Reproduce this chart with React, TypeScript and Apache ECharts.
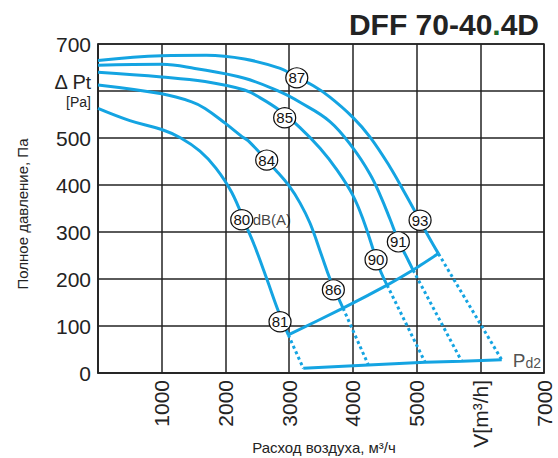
import React, { useEffect, useRef } from 'react';
import * as echarts from 'echarts';

// Fan curves (flow m3/h, total pressure Pa)
const curve93: number[][] = [[0,665],[1000,675],[1700,676],[2300,668],[2860,648],[3120,629],[3380,611],[3640,587],[4000,544],[4270,502],[4580,439],[4820,382],[5055,324],[5190,290],[5343,254]];
const curve91: number[][] = [[0,655],[1000,657],[1520,648],[2300,627],[2860,598],[3170,576],[3640,535],[4000,479],[4270,423],[4430,378],[4584,327],[4714,282],[4846,246],[4945,219]];
const curve90: number[][] = [[0,640],[1000,630],[1680,620],[2300,602],[2540,586],[2860,558],[3170,522],[3485,478],[3750,432],[4000,378],[4165,325],[4350,250],[4440,215],[4537,187]];
const curve86: number[][] = [[0,613],[1000,594],[1470,577],[1680,563],[2000,531],[2260,503],[2360,494],[2800,430],[3000,398],[3170,362],[3330,318],[3510,250],[3642,200],[3799,152],[3846,138]];
const curve81: number[][] = [[0,563],[500,537],[1000,518],[1300,500],[1600,472],[1850,436],[2100,384],[2335,310],[2465,268],[2650,200],[2830,132],[2987,81]];

// end points of solid curves (operating limit line)
const curveEnds: number[][] = [[2987,81],[3846,138],[4537,187],[4945,219],[5343,254]];
// dynamic pressure line points
const pd2Points: number[][] = [[3223,10],[4243,17],[5133,23],[5708,25],[6337,28]];

// sound level labels
const labelNames: string[] = ['87','85','84','80','93','91','90','86','81'];
const labelPositions: number[][] = [[3120,628],[2930,543],[2648,453],[2256,326],[5055,325],[4714,279],[4364,241],[3694,177],[2857,109]];

const xTicks: number[] = [0,1000,2000,3000,4000,5000,6000,7000];
const yTicks: number[] = [0,100,200,300,400,500,600,700];

const BLUE = '#14a4e2';
const DARK = '#232323';
const FONT = "'Liberation Sans', Arial, sans-serif";

export default function App() {
  const ref = useRef<HTMLDivElement>(null);
  useEffect(() => {
    if (!ref.current) return;
    const chart = echarts.init(ref.current, undefined, { renderer: 'svg' });
    const solid = (data: number[][]) => ({
      type: 'line', data, showSymbol: false, smooth: 0.4, silent: true,
      lineStyle: { color: BLUE, width: 3 }, z: 3,
    });
    const dotted = curveEnds.map((p, i) => ({
      type: 'line', data: [p, pd2Points[i]], showSymbol: false, silent: true,
      lineStyle: { color: BLUE, width: 3, type: [3, 3] }, z: 3,
    }));
    const option: any = {
      animation: false,
      title: {
        text: '{a|DFF 70-40}{g|.}{a|4D}', right: 19, top: 9, padding: 0,
        textStyle: {
          rich: {
            a: { fontSize: 30, fontWeight: 'bold', color: DARK, fontFamily: FONT, lineHeight: 30 },
            g: { fontSize: 30, fontWeight: 'bold', color: '#1d6b2c', fontFamily: FONT, lineHeight: 30 },
          },
        },
      },
      grid: { left: 98, top: 44, width: 446, height: 329, show: true, borderColor: DARK, borderWidth: 1.5 },
      xAxis: {
        type: 'value', min: xTicks[0], max: xTicks[xTicks.length - 1], interval: 1000,
        axisLine: { show: true, lineStyle: { color: DARK, width: 1.5 } },
        axisTick: { show: false },
        splitLine: { show: true, lineStyle: { color: DARK, width: 1.5 } },
        axisLabel: {
          rotate: 90, margin: 7, fontSize: 21, color: DARK, fontFamily: FONT,
          formatter: (v: number) => (v === 0 ? '' : v === 6000 ? 'V[m³/h]' : String(v)),
        },
      },
      yAxis: {
        type: 'value', min: yTicks[0], max: yTicks[yTicks.length - 1], interval: 100,
        axisLine: { show: true, lineStyle: { color: DARK, width: 1.5 } },
        axisTick: { show: false },
        splitLine: { show: true, lineStyle: { color: DARK, width: 1.5 } },
        axisLabel: {
          margin: 7, fontSize: 21, color: DARK, fontFamily: FONT,
          formatter: (v: number) => (v === 600 ? '{d|Δ P}{t|t}\n{u|[Pa]}' : String(v)),
          rich: {
            d: { fontSize: 20, lineHeight: 22, color: DARK, fontFamily: FONT, verticalAlign: 'bottom' },
            t: { fontSize: 19, lineHeight: 18, color: DARK, fontFamily: FONT, verticalAlign: 'bottom' },
            u: { fontSize: 14, lineHeight: 20, color: DARK, fontFamily: FONT },
          },
        },
      },
      series: [
        solid(curve93), solid(curve91), solid(curve90), solid(curve86), solid(curve81),
        ...dotted,
        { type: 'line', data: curveEnds, showSymbol: false, smooth: 0.2, silent: true, lineStyle: { color: BLUE, width: 3 }, z: 3 },
        { type: 'line', data: pd2Points, showSymbol: false, silent: true, lineStyle: { color: BLUE, width: 3 }, z: 3 },
        {
          type: 'scatter', z: 5, silent: true,
          symbol: 'circle', symbolSize: [22, 20],
          itemStyle: { color: '#fff', borderColor: '#111', borderWidth: 1.2, opacity: 1 },
          label: { show: true, position: 'inside', formatter: '{b}', fontSize: 15, color: '#111', fontFamily: FONT },
          data: labelNames.map((n, i) => ({ name: n, value: labelPositions[i] })),
        },
        {
          type: 'scatter', z: 5, silent: true, symbolSize: 0,
          label: { show: true, position: 'right', distance: 11, formatter: 'dB(A)', fontSize: 15, color: '#111', fontFamily: FONT },
          data: [labelPositions[3]],
        },
        {
          type: 'scatter', z: 5, silent: true, symbolSize: 0,
          label: {
            show: true, position: 'right', distance: 11, formatter: '{p|P}{s|d2}',
            rich: {
              p: { fontSize: 19, color: DARK, fontFamily: FONT, verticalAlign: 'bottom', lineHeight: 20 },
              s: { fontSize: 14, color: DARK, fontFamily: FONT, verticalAlign: 'bottom', lineHeight: 16 },
            },
          },
          data: [pd2Points[pd2Points.length - 1]],
        },
      ],
      graphic: [
        {
          type: 'text', x: 22, y: 214, rotation: Math.PI / 2,
          style: { text: 'Полное давление, Па', fontSize: 15, fill: DARK, fontFamily: FONT, align: 'center', verticalAlign: 'middle' },
        },
        {
          type: 'text', x: 324, y: 447,
          style: { text: 'Расход воздуха, м³/ч', fontSize: 15, fill: DARK, fontFamily: FONT, align: 'center', verticalAlign: 'middle' },
        },
      ],
    };
    chart.setOption(option);
    return () => chart.dispose();
  }, []);
  return <div ref={ref} style={{ position: 'absolute', left: 0, top: 0, width: 558, height: 458, background: '#fff' }} />;
}
